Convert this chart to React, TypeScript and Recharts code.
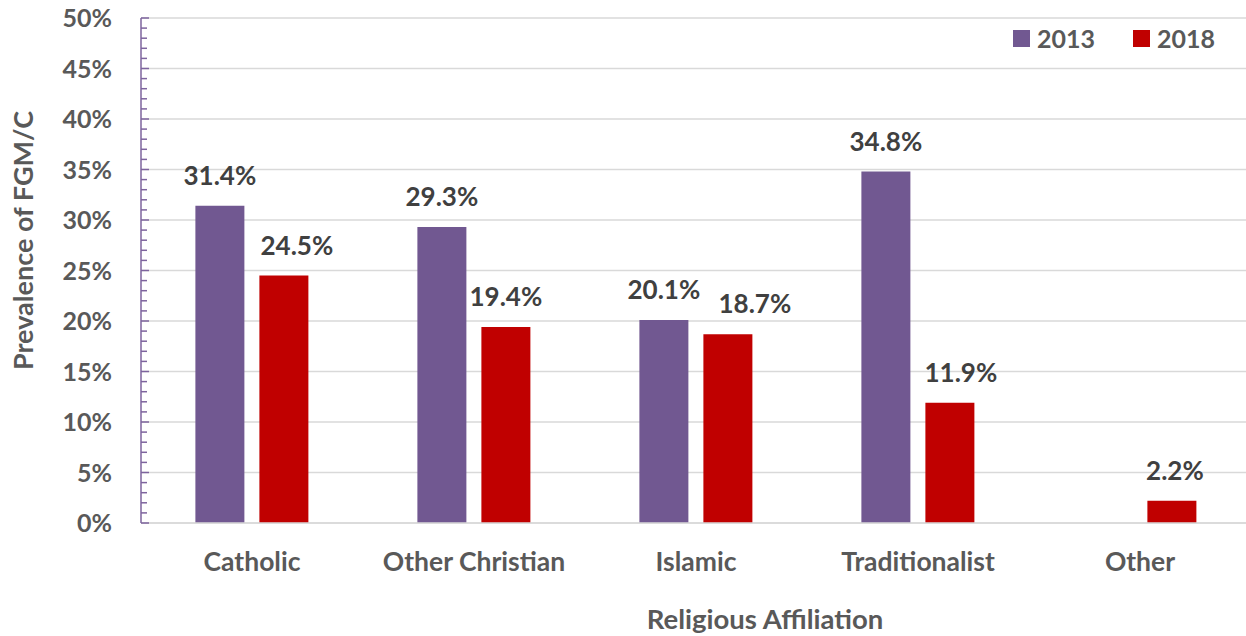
import React from 'react'
import { BarChart, Bar, XAxis, YAxis, CartesianGrid, LabelList } from 'recharts'

const categories = ['Catholic', 'Other Christian', 'Islamic', 'Traditionalist', 'Other']
const values2013: (number | null)[] = [31.4, 29.3, 20.1, 34.8, null]
const values2018: (number | null)[] = [24.5, 19.4, 18.7, 11.9, 2.2]
const minorTicks = Array.from({ length: 51 }, (_, i) => i)
const majorTicks = [0, 5, 10, 15, 20, 25, 30, 35, 40, 45, 50]

// horizontal nudges of the 2018 value labels, as placed in the original
const labelNudge2018 = [13, 0, 27, 11, 3]

const PURPLE = '#715891'
const RED = '#C00000'
const FONT = 'Lato, "Open Sans", sans-serif'

const data = categories.map((name, i) => ({ name, y2013: values2013[i], y2018: values2018[i] }))

const TICK_MARGIN = 29

function YTick(props: any) {
  const { x, y, payload } = props
  const v = payload.value as number
  const axisX = x + TICK_MARGIN
  const major = v % 5 === 0
  return (
    <g>
      <line x1={axisX} x2={axisX + (major ? 8 : 6)} y1={y} y2={y} stroke="#7E649E" strokeWidth={1.5} />
      {major && (
        <text x={x} y={y} dy={9} textAnchor="end" fill="#595959" fontSize={25} fontWeight={700} fontFamily={FONT}>
          {v}%
        </text>
      )}
    </g>
  )
}

function LegendBox() {
  const items = [
    { label: '2013', color: PURPLE },
    { label: '2018', color: RED },
  ]
  return (
    <div style={{ position: 'absolute', left: 1013, top: 23, display: 'flex', gap: 38, fontFamily: FONT, fontWeight: 700, fontSize: 25, color: '#595959' }}>
      {items.map(it => (
        <div key={it.label} style={{ display: 'flex', alignItems: 'center', gap: 7 }}>
          <div style={{ width: 17, height: 17, background: it.color }} />
          <span>{it.label}</span>
        </div>
      ))}
    </div>
  )
}

const fmt = (v: any) => (v == null ? '' : `${Number(v).toFixed(1)}%`)

function ValueLabel(props: any) {
  const { x, y, width, value, index, nudges } = props
  if (value == null) return null
  const dx = nudges ? nudges[index] ?? 0 : 0
  return (
    <text x={x + width / 2 + dx} y={y - 21} textAnchor="middle" fill="#404040" fontSize={26} fontWeight={700} fontFamily={FONT}>
      {fmt(value)}
    </text>
  )
}

export default function App() {
  return (
    <div style={{ position: 'absolute', left: 0, top: 0, width: 1246, height: 636, overflow: 'hidden', background: '#fff' }}>
      <BarChart
        width={1251}
        height={636}
        data={data}
        margin={{ top: 18, right: 0, bottom: 0, left: 0 }}
        barCategoryGap="24.5%"
        barGap={15}
      >
        <CartesianGrid vertical={false} stroke="#D9D9D9" strokeWidth={1.5} horizontalValues={majorTicks} />
        <XAxis
          dataKey="name"
          height={113}
          axisLine={{ stroke: '#D9D9D9', strokeWidth: 1.5 }}
          tickLine={false}
          tickMargin={23}
          tick={{ fill: '#595959', fontSize: 26.5, fontWeight: 700, fontFamily: FONT }}
          interval={0}
          label={{
            content: () => (
              <text x={765} y={629} textAnchor="middle" fill="#595959" fontSize={27.5} fontWeight={700} fontFamily={FONT}>
                Religious Affiliation
              </text>
            ),
          }}
        />
        <YAxis
          width={141}
          domain={[0, 50]}
          ticks={minorTicks}
          interval={0}
          tickSize={0}
          tickMargin={TICK_MARGIN}
          tick={<YTick />}
          axisLine={{ stroke: '#7E649E', strokeWidth: 1.5 }}
          label={{
            content: (p: any) => {
              const vb = p.viewBox
              const cy = vb.y + vb.height / 2 - 30
              return (
                <text x={33} y={cy} transform={`rotate(-90, 33, ${cy})`} textAnchor="middle" fill="#595959" fontSize={27} fontWeight={700} fontFamily={FONT}>
                  Prevalence of FGM/C
                </text>
              )
            },
          }}
        />
        <Bar dataKey="y2013" name="2013" fill={PURPLE} isAnimationActive={false}>
          <LabelList dataKey="y2013" content={<ValueLabel />} />
        </Bar>
        <Bar dataKey="y2018" name="2018" fill={RED} isAnimationActive={false}>
          <LabelList dataKey="y2018" content={<ValueLabel nudges={labelNudge2018} />} />
        </Bar>
      </BarChart>
      <LegendBox />
    </div>
  )
}
